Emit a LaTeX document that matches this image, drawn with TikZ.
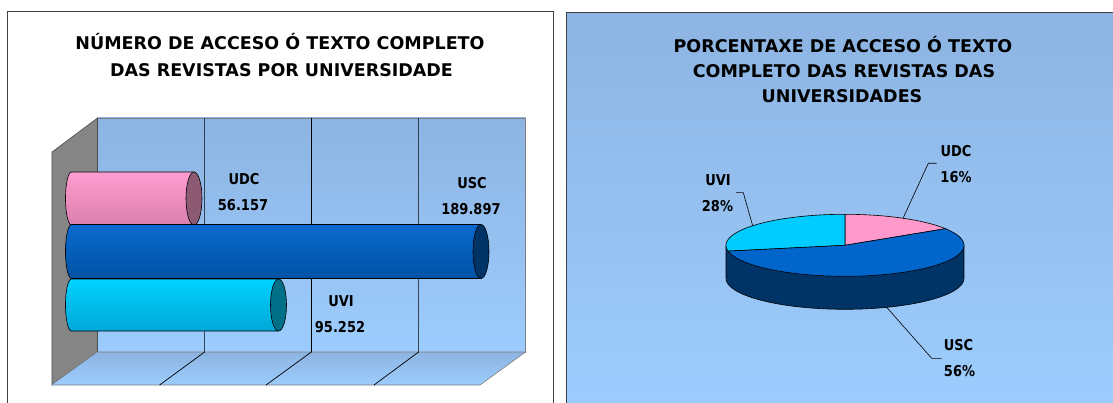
\documentclass[tikz,border=0pt]{standalone}
\usepackage{fontspec}
\setmainfont{DejaVu Sans}
\definecolor{bgtop}{HTML}{8DB4E2}
\definecolor{bgbot}{HTML}{9CCCFE}
\definecolor{wallgrey}{HTML}{858585}
\definecolor{pinkT}{HTML}{FF9DD0}
\definecolor{pinkB}{HTML}{D97FAE}
\definecolor{pinkC}{HTML}{8C5A73}
\definecolor{blueT}{HTML}{0A6AD0}
\definecolor{blueB}{HTML}{0052A3}
\definecolor{blueC}{HTML}{003366}
\definecolor{cyanT}{HTML}{00D2FF}
\definecolor{cyanB}{HTML}{00A8D8}
\definecolor{cyanC}{HTML}{007088}
\definecolor{piePink}{HTML}{FF99CC}
\definecolor{pieBlue}{HTML}{0066CC}
\definecolor{pieCyan}{HTML}{00CCFF}
\definecolor{pieSide}{HTML}{003366}
\newcommand\stretchy[1]{\scalebox{1}[1.15]{#1}}
\newcommand\cylbar[8]{% x0, x1, yc, ry, top, bottom, cap, name
  \shade[top color=#5, bottom color=#6, draw=black, line width=0.6pt]
    (#2,#3-#4) -- (#1,#3-#4) -- plot[domain=90:270,samples=40] ({#1+6*cos(\x)},{#3-#4*sin(\x)}) -- (#2,#3+#4) -- cycle;
  \filldraw[fill=#7, draw=black, line width=0.6pt] (#2,#3) ellipse [x radius=8, y radius=#4];
  \coordinate (#8) at (#2,#3);
}
\begin{document}
\begin{tikzpicture}[x=1pt,y=-1pt,
  ttl/.style={font=\bfseries\fontsize{17.5}{17.5}\selectfont, inner sep=0pt, anchor=base},
  lbl/.style={font=\bfseries\fontsize{13}{13}\selectfont, inner sep=0pt, anchor=base},
  frame/.style={draw=black!75, line width=0.8pt},
  grid/.style={draw=black, line width=0.7pt},
  leader/.style={draw=black, line width=0.6pt}]
\useasboundingbox (0,0) rectangle (1113,403);
\fill[white] (0,0) rectangle (1113,403);

% ---------------- left panel ----------------
\draw[frame] (7.5,410) -- (7.5,11.5) -- (553,11.5) -- (553,410);
\node[ttl] (t1) at (280,50) {NÚMERO DE ACCESO Ó TEXTO COMPLETO};
\node[ttl] (t2) at (281.5,76.7) {DAS REVISTAS POR UNIVERSIDADE};

% back wall
\shade[top color=bgtop, bottom color=bgbot] (97.5,118) rectangle (525.5,352);
\draw[draw=gray, line width=0.6pt] (97.5,118) rectangle (525.5,352);
% left wall
\filldraw[fill=wallgrey, draw=black!70, line width=0.6pt] (52,152) -- (97.5,118) -- (97.5,352) -- (52,385) -- cycle;
% floor
\shade[top color=bgtop, bottom color=bgbot] (97.5,352) -- (525.5,352) -- (480,385) -- (52,385) -- cycle;
\draw[draw=gray, line width=0.6pt] (97.5,352) -- (525.5,352) -- (480,385) -- (52,385);
% grid lines
\coordinate (g1t) at (204.6,118); \coordinate (g1b) at (204.6,352); \coordinate (g1f) at (159.6,385);
\coordinate (g2t) at (311.4,118); \coordinate (g2b) at (311.4,352); \coordinate (g2f) at (266,385);
\coordinate (g3t) at (418.6,118); \coordinate (g3b) at (418.6,352); \coordinate (g3f) at (374,385);
\draw[grid] (g1t) -- (g1b) -- (g1f);
\draw[grid] (g2t) -- (g2b) -- (g2f);
\draw[grid] (g3t) -- (g3b) -- (g3f);

% bars
\cylbar{71.5}{194}{198.5}{26.5}{pinkT}{pinkB}{pinkC}{udcbar}
\cylbar{71.5}{278.5}{305}{26}{cyanT}{cyanB}{cyanC}{uvibar}
\cylbar{71.5}{481}{251.5}{27}{blueT}{blueB}{blueC}{uscbar}

\node[lbl] (udcn) at (244,185) {\stretchy{UDC}};
\node[lbl] (udcv) at (243,211) {\stretchy{56.157}};
\node[lbl] (uscn) at (472,189) {\stretchy{USC}};
\node[lbl] (uscv) at (471,215) {\stretchy{189.897}};
\node[lbl] (uvin) at (341,306) {\stretchy{UVI}};
\node[lbl] (uviv) at (340,332) {\stretchy{95.252}};

% ---------------- right panel ----------------
\shade[top color=bgtop, bottom color=bgbot] (566.5,12.5) rectangle (1113,403);
\draw[frame] (566.5,410) -- (566.5,12.5) -- (1120,12.5);
\node[ttl] (r1) at (843,53) {PORCENTAXE DE ACCESO Ó TEXTO};
\node[ttl] (r2) at (844,78) {COMPLETO DAS REVISTAS DAS};
\node[ttl] (r3) at (842,103) {UNIVERSIDADES};

% pie side
\fill[pieSide] (726,245.3) rectangle (964,278.3);
\fill[pieSide] (845,278.3) ellipse [x radius=119, y radius=31];
\draw[black, line width=0.6pt] (726,245.3) -- (726,278.3)
   -- plot[domain=180:360,samples=60] ({845+119*cos(\x)},{278.3-31*sin(\x)}) -- (964,245.3);
% pie top slices
\filldraw[fill=piePink, draw=black, line width=0.6pt] (845,245.3) -- plot[domain=32.4:90,samples=30] ({845+119*cos(\x)},{245.3-31*sin(\x)}) -- cycle;
\filldraw[fill=pieCyan, draw=black, line width=0.6pt] (845,245.3) -- plot[domain=90:190.8,samples=40] ({845+119*cos(\x)},{245.3-31*sin(\x)}) -- cycle;
\filldraw[fill=pieBlue, draw=black, line width=0.6pt] (845,245.3) -- plot[domain=190.8:392.4,samples=80] ({845+119*cos(\x)},{245.3-31*sin(\x)}) -- cycle;

% leaders and labels
\coordinate (udcp) at ({845+119*cos(60.8)},{245.3-31*sin(60.8)});
\coordinate (uvip) at ({845+119*cos(140.9)},{245.3-31*sin(140.9)});
\coordinate (uscp) at ({845+119*cos(-69.5)},{278.3-31*sin(-69.5)});
\coordinate (udck) at (928.3,163.3); \coordinate (udce) at (936.7,163.3);
\coordinate (uvik) at (743.3,192.7); \coordinate (uvie) at (736,192.7);
\coordinate (usck) at (931.7,358.3); \coordinate (usce) at (941.7,358.3);
\draw[leader] (udcp) -- (udck) -- (udce);
\draw[leader] (uvip) -- (uvik) -- (uvie);
\draw[leader] (uscp) -- (usck) -- (usce);

\node[lbl] (pudcn) at (956,156.5) {\stretchy{UDC}};
\node[lbl] (pudcv) at (956,182.5) {\stretchy{16\%}};
\node[lbl] (puvin) at (718,186) {\stretchy{UVI}};
\node[lbl] (puviv) at (717.5,211.5) {\stretchy{28\%}};
\node[lbl] (puscn) at (958.5,350) {\stretchy{USC}};
\node[lbl] (puscv) at (959.5,376.5) {\stretchy{56\%}};
\end{tikzpicture}
\end{document}
